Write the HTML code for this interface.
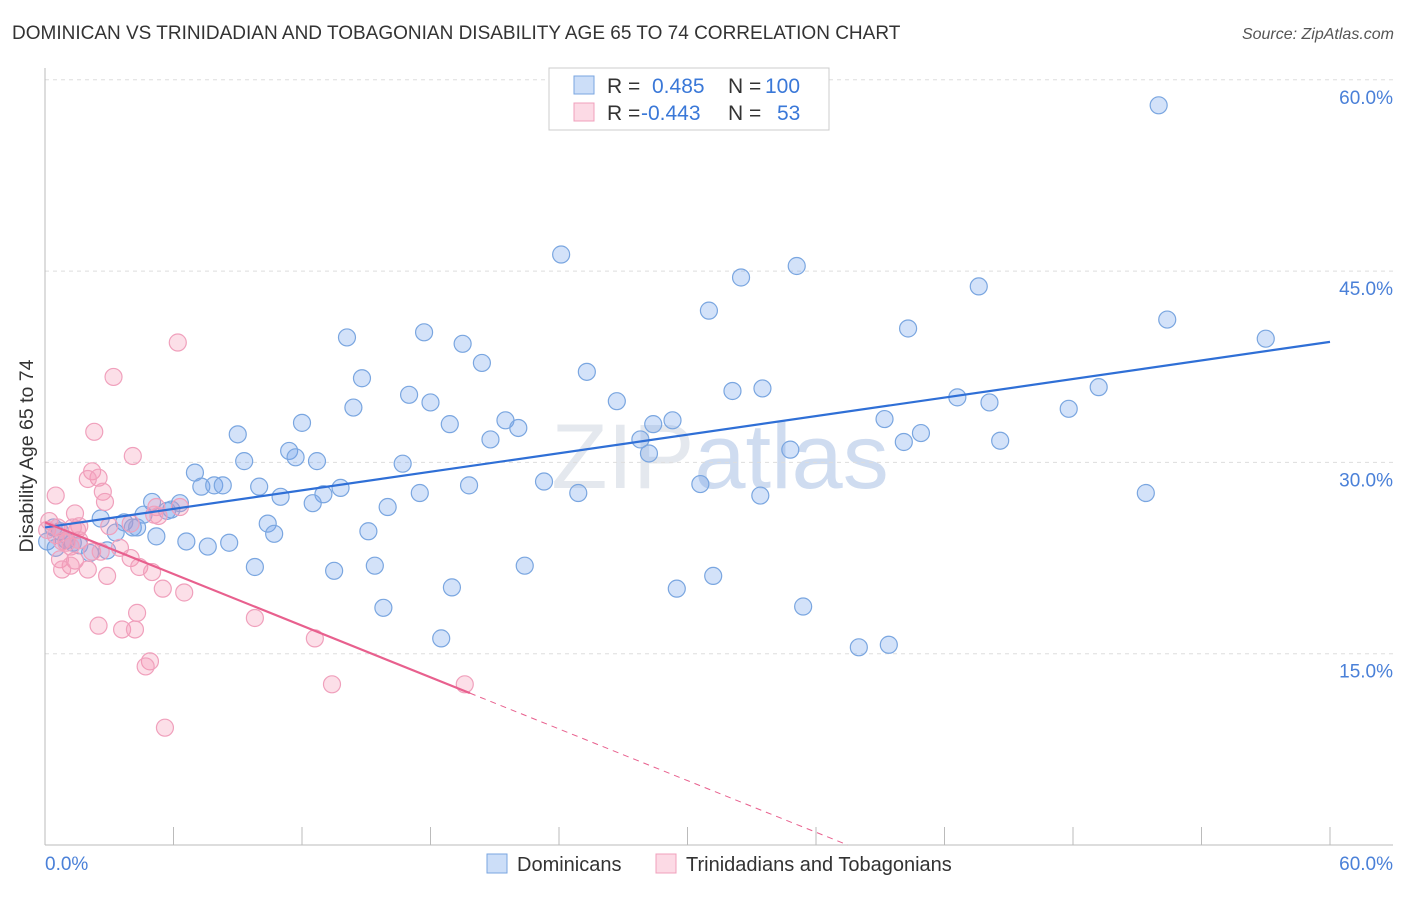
<!DOCTYPE html>
<html><head><meta charset="utf-8"><style>
body{margin:0;background:#fff;font-family:"Liberation Sans",sans-serif;}
svg text{font-family:"Liberation Sans",sans-serif;}
</style></head><body>
<svg id="c" width="1406" height="892">
<text x="12" y="39" font-size="19" fill="#333">DOMINICAN VS TRINIDADIAN AND TOBAGONIAN DISABILITY AGE 65 TO 74 CORRELATION CHART</text>
<text x="1394" y="39" font-size="16" fill="#555" font-style="italic" text-anchor="end">Source: ZipAtlas.com</text>
<text x="720" y="488" font-size="92" fill="#e4e8ee" text-anchor="middle" font-family="Liberation Serif">ZIP<tspan fill="#cfdcf0" font-family="Liberation Sans">atlas</tspan></text>
<g id="grid"></g><g id="pts"></g><g id="lines"></g>
<text transform="translate(33,456) rotate(-90)" font-size="19.5" fill="#333" text-anchor="middle">Disability Age 65 to 74</text>
<g>
<rect x="549" y="68" width="280" height="62" fill="#fff" stroke="#ccc"/>
<rect x="574" y="76" width="20" height="18" fill="rgba(110,160,235,0.35)" stroke="#7aa6e0"/>
<rect x="574" y="103" width="20" height="18" fill="rgba(245,150,180,0.35)" stroke="#f0a0bc"/>
<text x="607" y="93" font-size="21" fill="#333">R = <tspan fill="#3a78d8" x="652">0.485</tspan><tspan x="728">N =</tspan><tspan fill="#3a78d8" x="765">100</tspan></text>
<text x="607" y="120" font-size="21" fill="#333">R = <tspan fill="#3a78d8" x="641">-0.443</tspan><tspan x="728">N =</tspan><tspan fill="#3a78d8" x="777">53</tspan></text>
</g>
<g>
<rect x="487" y="854" width="20" height="19" fill="rgba(110,160,235,0.35)" stroke="#7aa6e0"/>
<text x="517" y="871" font-size="20" fill="#333">Dominicans</text>
<rect x="656" y="854" width="20" height="19" fill="rgba(245,150,180,0.35)" stroke="#f0a0bc"/>
<text x="686" y="871" font-size="20" fill="#333">Trinidadians and Tobagonians</text>
</g>
</svg>
<script>
const yTicks=[15,30,45,60];
const xTickVals=[0,6,12,18,24,30,36,42,48,54,60];
const blueX=[52.0,24.1,32.5,35.1,43.6,31.0,40.3,52.4,57.0,14.1,17.7,19.5,20.4,14.8,25.3,17.0,18.0,14.4,26.7,32.1,33.5,42.6,44.1,49.2,47.8,12.0,9.0,18.9,21.5,22.1,20.8,28.4,29.3,27.8,28.2,39.2,40.9,40.1,44.6,34.8,11.4,11.7,12.7,9.3,16.7,7.0,7.3,7.9,8.3,10.0,11.0,13.0,13.8,12.5,17.5,19.8,23.3,24.9,30.6,33.4,51.4,16.0,5.0,6.3,5.9,4.6,5.7,2.6,3.7,4.1,4.3,3.3,10.4,10.7,5.2,6.6,7.6,8.6,15.1,0.4,0.7,1.0,1.3,1.6,2.1,2.9,0.1,9.8,13.5,15.4,22.4,31.2,29.5,19.0,15.8,35.4,18.5,38.0,39.4,0.5];
const blueY=[58.0,46.3,44.5,45.4,43.8,41.9,40.5,41.2,39.7,39.8,40.2,39.3,37.8,36.6,37.1,35.3,34.7,34.3,34.8,35.6,35.8,35.1,34.7,35.9,34.2,33.1,32.2,33.0,33.3,32.7,31.8,33.0,33.3,31.8,30.7,33.4,32.3,31.6,31.7,31.0,30.9,30.4,30.1,30.1,29.9,29.2,28.1,28.2,28.2,28.1,27.3,27.5,28.0,26.8,27.6,28.2,28.5,27.6,28.3,27.4,27.6,26.5,26.9,26.8,26.3,25.9,26.2,25.6,25.3,24.9,24.9,24.5,25.2,24.4,24.2,23.8,23.4,23.7,24.6,24.9,24.6,23.9,23.7,23.5,22.9,23.1,23.8,21.8,21.5,21.9,21.9,21.1,20.1,20.2,18.6,18.7,16.2,15.5,15.7,23.3];
const pinkX=[6.2,3.2,2.3,4.1,2.2,2.5,2.0,2.7,0.5,2.8,1.4,5.2,6.3,5.3,3.0,1.6,1.5,4.0,0.1,0.5,0.8,1.2,1.0,0.7,1.4,2.0,1.2,2.2,4.0,4.4,5.0,2.9,5.5,6.5,4.3,9.8,2.5,3.6,4.2,12.6,4.9,4.7,13.4,19.6,5.6,0.2,0.6,1.3,1.6,2.6,5.1,3.5,0.8];
const pinkY=[39.4,36.7,32.4,30.5,29.3,28.8,28.7,27.7,27.4,26.9,26.0,26.5,26.5,25.8,25.0,25.0,24.7,25.2,24.7,24.3,23.8,23.4,23.7,22.4,22.3,21.6,21.9,23.0,22.5,21.8,21.4,21.1,20.1,19.8,18.2,17.8,17.2,16.9,16.9,16.2,14.4,14.0,12.6,12.6,9.2,25.4,24.9,24.9,23.9,23.0,25.9,23.3,21.6];
const blueTrend=[24.9,39.45];
const pinkTrend=[25.3,-0.675];
const pinkSolidEnd=19.84;
const NS="http://www.w3.org/2000/svg";
const sx=v=>45+v*(1285/60), sy=v=>845-v*(191.3/15);
function mk(t,a,p){const e=document.createElementNS(NS,t);for(const k in a)e.setAttribute(k,a[k]);p.appendChild(e);return e;}
const g=document.getElementById('grid');
yTicks.forEach(v=>{
 const l=mk('line',{x1:45,x2:1393,y1:sy(v),y2:sy(v),stroke:'#ddd','stroke-dasharray':'4,4'},g);
 
 
 const t=mk('text',{x:1393,y:sy(v)+24,'font-size':19,fill:'#4a80d8','text-anchor':'end'},g);t.textContent=v.toFixed(1)+'%';
 
 
});
mk('line',{x1:45,x2:45,y1:68,y2:845,stroke:'#bbb'},g);
mk('line',{x1:45,x2:1393,y1:845,y2:845,stroke:'#bbb'},g);
xTickVals.forEach(v=>{const l=mk('line',{x1:sx(v),x2:sx(v),y1:827,y2:845,stroke:'#bbb'},g);
 
 });
[[0,'start',45],[60,'end',1393]].forEach(([v,a,x])=>{const t=mk('text',{x:x,y:870,'font-size':19,fill:'#4a80d8','text-anchor':a},g);t.textContent=v.toFixed(1)+'%';
 
 });
const P=document.getElementById('pts');
blueX.forEach((x,i)=>{const c=mk('circle',{cx:sx(x),cy:sy(blueY[i]),r:8.5,fill:'rgba(110,160,235,0.3)',stroke:'#7aa6e0','stroke-width':1.2},P);
 
 });
pinkX.forEach((x,i)=>{const c=mk('circle',{cx:sx(x),cy:sy(pinkY[i]),r:8.5,fill:'rgba(245,150,180,0.3)',stroke:'#f0a0bc','stroke-width':1.2},P);
 
 });
const L=document.getElementById('lines');
const bl=mk('line',{x1:sx(0),y1:sy(blueTrend[0]),x2:sx(60),y2:sy(blueTrend[1]),stroke:'#2f6fd6','stroke-width':2.2},L);


const pf=x=>pinkTrend[0]+pinkTrend[1]*x;
const pl=mk('line',{x1:sx(0),y1:sy(pf(0)),x2:sx(pinkSolidEnd),y2:sy(pf(pinkSolidEnd)),stroke:'#e8608e','stroke-width':2.2},L);


const zx=-pinkTrend[0]/pinkTrend[1];
const pd=mk('line',{x1:sx(pinkSolidEnd),y1:sy(pf(pinkSolidEnd)),x2:sx(zx),y2:sy(0),stroke:'#e8608e','stroke-width':1,'stroke-dasharray':'6,5'},L);


</script>
</body></html>
